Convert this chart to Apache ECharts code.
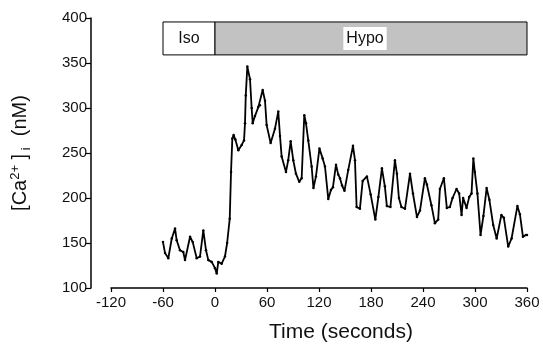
<!DOCTYPE html>
<html>
<head>
<meta charset="utf-8">
<script src="https://cdn.jsdelivr.net/npm/echarts@6/dist/echarts.min.js"></script>
<style>
html,body{margin:0;padding:0;background:#fff;}
#c{width:543px;height:344px;}
</style>
</head>
<body>
<div id="c"></div>
<script>
// Time (s) and [Ca2+]i (nM)
const times = [-60,-57.7,-53.9,-49.9,-46.1,-44.2,-40.4,-36.6,-34.6,-28.8,-25.7,-21.1,-17.3,-13.5,-10.4,-7.7,-3.8,0,2,3.8,7.7,11.5,14,17,18.5,20,21.5,23.5,26.9,30.8,33.5,34.6,35.5,37.3,40.4,42.3,43.5,46.1,50,51.9,55,57.7,59.6,64.2,69.2,73,75,76.9,81.9,84.5,87.3,90.3,93.4,97.2,100,103,105,107.6,111.5,113.6,116.5,120.5,124.2,126.9,130.7,133.8,136.1,139.6,142.2,144.2,146.6,149.4,153.7,159.2,161.5,163.4,167.2,170.4,175.3,179.6,185,188.5,192.6,196,198.3,202.4,207.6,209.9,212.2,215.1,219.2,225,228.4,233,236.5,242.2,244.5,249.7,253.7,257.5,259.5,264.1,267.5,271,274.1,278.7,281.7,284.5,286.3,290.3,293.3,296,298.1,299.8,302.8,306.4,309.7,313.4,316.6,321,325,330.4,333.3,338.3,342.2,348.9,351.8,355.3,358.7,360];
const calcium = [151,139,133,155,166,153,142,140,131,157,151,133,135,164,142,131,129,122,116,129,127,135,150,177,229,266,270,265,253,259,264,283,314,346,332,300,283,291,301,303,320,308,281,261,277,296,269,246,229,242,263,242,227,218,222,292,283,264,235,211,224,255,244,235,199,209,212,237,226,222,214,208,231,258,242,190,188,219,224,204,176,201,233,213,191,190,242,227,200,190,188,227,205,179,186,222,215,192,172,176,210,222,189,190,200,210,205,181,200,189,201,205,244,229,205,159,180,211,198,170,155,181,178,146,155,191,182,157,159,159];
const xTicks = [-120,-60,0,60,120,180,240,300,360];
const yTicks = [100,150,200,250,300,350,400];
const stimLabels = ['Iso','Hypo'];
const stimStart = [-60,0];
const stimEnd = [0,360];
const barBottom = 359, barTop = 395.6;

const pts = times.map((t,i)=>[t,calcium[i]]);
const chart = echarts.init(document.getElementById('c'), null, {renderer:'canvas'});
const FONT = '"Liberation Sans", Arial, Helvetica, sans-serif';
chart.setOption({
  animation:false,
  backgroundColor:'#fff',
  grid:{left:111,right:16,top:18,bottom:56},
  xAxis:{
    type:'value', min:xTicks[0], max:xTicks[xTicks.length-1], interval:xTicks[1]-xTicks[0],
    axisLine:{onZero:false,lineStyle:{color:'#000',width:1.5}},
    axisTick:{show:true,length:4,lineStyle:{color:'#000',width:1.2}},
    axisLabel:{color:'#111',fontSize:15,fontFamily:FONT,margin:7},
    splitLine:{show:false}
  },
  yAxis:{
    type:'value', min:yTicks[0], max:yTicks[yTicks.length-1], interval:yTicks[1]-yTicks[0],
    offset:20,
    axisLine:{show:true,onZero:false,lineStyle:{color:'#000',width:1.5}},
    axisTick:{show:true,length:6,lineStyle:{color:'#000',width:1.2}},
    axisLabel:{color:'#111',fontSize:15,fontFamily:FONT,margin:4},
    splitLine:{show:false},
    name:'{b|[Ca}{sup|2+}{b| ]}{sub| i}{b|  (nM)}',
    nameLocation:'middle', nameRotate:90, nameGap:58,
    nameTextStyle:{
      fontFamily:FONT,color:'#111',
      rich:{
        b:{fontSize:20,fontFamily:FONT,color:'#111',lineHeight:24,verticalAlign:'middle'},
        sup:{fontSize:13,fontFamily:FONT,color:'#111',padding:[0,0,10,0],verticalAlign:'middle'},
        sub:{fontSize:13,fontFamily:FONT,color:'#111',padding:[12,0,0,0],verticalAlign:'middle'}
      }
    }
  },
  graphic:[{
    type:'text', x:341, y:332,
    style:{text:'Time (seconds)',font:'21px '+FONT,fill:'#111',textAlign:'center',textVerticalAlign:'middle'}
  }],
  series:[{
    type:'line', data:pts, smooth:false,
    symbol:'circle', symbolSize:2.5, showSymbol:true,
    itemStyle:{color:'#000'},
    lineStyle:{color:'#000',width:1.8},
    markArea:{
      silent:true,
      data:[
        [{coord:[stimStart[0],barTop],name:stimLabels[0],
          itemStyle:{color:'#fff',borderColor:'#000',borderWidth:1},
          label:{show:true,position:'inside',color:'#111',fontSize:16,fontFamily:FONT}},
         {coord:[stimEnd[0],barBottom]}],
        [{coord:[stimStart[1],barTop],name:stimLabels[1],
          itemStyle:{color:'#c2c2c2',borderColor:'#000',borderWidth:1},
          label:{show:true,position:'inside',color:'#111',fontSize:16,fontFamily:FONT,
                 backgroundColor:'#fff',padding:[4,3,3,3],offset:[-6,0]}},
         {coord:[stimEnd[1],barBottom]}]
      ]
    }
  }]
});
</script>
</body>
</html>
